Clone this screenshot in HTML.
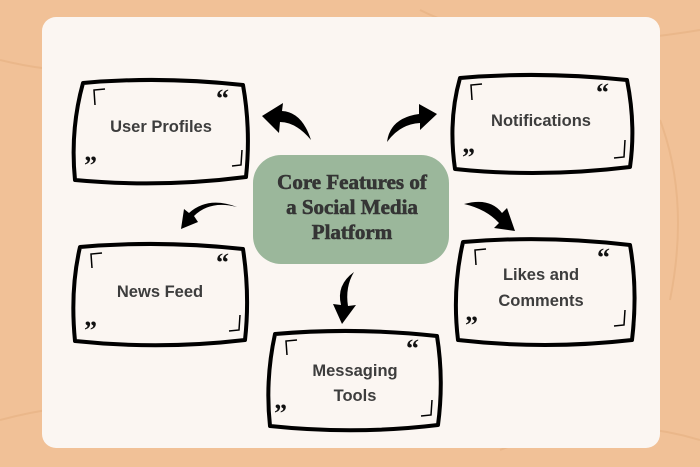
<!DOCTYPE html>
<html><head><style>
body{margin:0;width:700px;height:467px;overflow:hidden;background:#f1c197}
svg{display:block}
</style></head><body>
<svg width="700" height="467" viewBox="0 0 700 467" xmlns="http://www.w3.org/2000/svg">
<rect width="700" height="467" fill="#f1c197"/>
<path d="M0 60 Q120 90 240 40 M420 10 Q520 60 700 30 M0 420 Q150 380 300 440 M500 450 Q600 410 700 440 M660 120 Q690 200 670 300" stroke="#eab78a" stroke-width="2" fill="none"/>
<rect x="42" y="17" width="618" height="431" rx="14" fill="#fbf6f2"/>
<g fill="none" stroke="#000" stroke-width="4" stroke-linejoin="round">
<path d="M83 83 Q160 76 243 85 Q251 130 246 177 Q160 188 75 180 Q70 130 83 83Z"/>
<path d="M460 78 Q540 71 627 80 Q636 125 630 167 Q540 178 455 169 Q448 120 460 78Z"/>
<path d="M80 247 Q160 240 243 249 Q250 295 245 340 Q160 350 75 341 Q70 290 80 247Z"/>
<path d="M463 242 Q545 235 630 245 Q638 290 632 340 Q545 350 458 340 Q452 290 463 242Z"/>
<path d="M275 334 Q355 327 437 336 Q444 380 438 425 Q355 435 270 426 Q265 380 275 334Z"/>
</g>
<g fill="none" stroke="#000" stroke-width="1.5">
<path d="M95 105 L94 90 L105 89"/><path d="M242 150 L241 165 L232 166"/>
<path d="M472 100 L471 85 L482 84"/><path d="M625 140 L624 157 L614 158"/>
<path d="M92 268 L91 254 L102 253"/><path d="M240 315 L239 330 L229 331"/>
<path d="M476 265 L475 250 L486 249"/><path d="M625 310 L624 325 L614 326"/>
<path d="M287 355 L286 341 L297 340"/><path d="M432 400 L431 415 L421 416"/>
</g>
<g font-family="Liberation Serif,serif" font-weight="bold" font-size="26" fill="#111">
<text x="216" y="107">“</text><text x="84" y="174">”</text>
<text x="596" y="101">“</text><text x="462" y="166">”</text>
<text x="216" y="271">“</text><text x="84" y="339">”</text>
<text x="597" y="266">“</text><text x="465" y="334">”</text>
<text x="406" y="357">“</text><text x="274" y="422">”</text>
</g>
<g fill="#000">
<path d="M311 140 Q302 112 282 111 L283 103 L262 116 L279 133 L280 122 Q296 122 311 140Z"/>
<path d="M387 142 Q390 118 419 114 L419 104 L437 114 L420 130 L420 123 Q400 124 387 142Z"/>
<path d="M237 207 Q210 200 194 216 L198 222 L181 229 L184 209 L189 213 Q208 196 237 207Z"/>
<path d="M464 204 Q490 197 502 213 L507 208 L515 231 L494 228 L499 223 Q486 209 464 204Z"/>
<path d="M354 272 Q336 285 341 305 L333 304 L342 324 L356 305 L348 306 Q345 287 354 272Z"/>
</g>
<rect x="253" y="155" width="196" height="109" rx="28" fill="#9bb79b"/>
<g font-family="Liberation Serif,serif" font-weight="bold" font-size="21" fill="#353535" text-anchor="middle" stroke="#353535" stroke-width="0.6">
<text x="352" y="189">Core Features of</text>
<text x="352" y="214">a Social Media</text>
<text x="352" y="239">Platform</text>
</g>
<g font-family="Liberation Sans,sans-serif" font-weight="bold" font-size="16.5" fill="#3d3d3d" text-anchor="middle">
<text x="161" y="132">User Profiles</text>
<text x="541" y="126">Notifications</text>
<text x="160" y="297">News Feed</text>
<text x="541" y="280">Likes and</text>
<text x="541" y="306">Comments</text>
<text x="355" y="376">Messaging</text>
<text x="355" y="401">Tools</text>
</g>
</svg>
</body></html>
